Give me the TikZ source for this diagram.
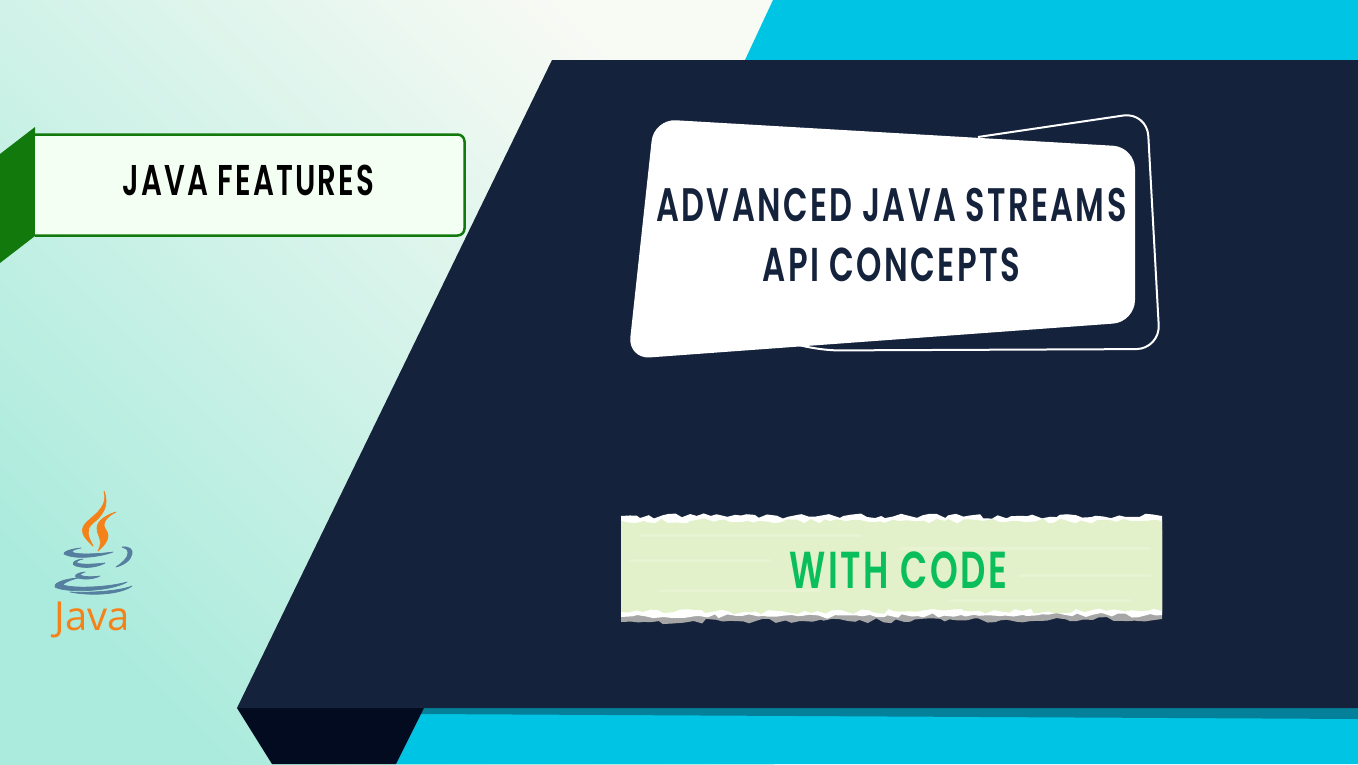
\documentclass[tikz,border=0pt]{standalone}
\usepackage{fontspec}
\setmainfont[FakeStretch=0.68,LetterSpace=5]{Poppins SemiBold}
\newfontfamily\logofont{Open Sans}
\usetikzlibrary{decorations.pathmorphing}
\definecolor{navy}{HTML}{15223B}
\definecolor{navydark}{HTML}{020B1F}
\definecolor{skycyan}{HTML}{00C4E3}
\definecolor{tealband}{HTML}{05809A}
\definecolor{badgegreen}{HTML}{127A0C}
\definecolor{badgefill}{HTML}{F3FFF2}
\definecolor{paper}{HTML}{E3F1CB}
\definecolor{streak}{HTML}{E7F3D2}
\definecolor{codegreen}{HTML}{0ABF5B}
\definecolor{flame}{HTML}{F58219}
\definecolor{cupblue}{HTML}{557E9F}
\definecolor{mintlow}{HTML}{ABEBDD}
\definecolor{minthigh}{HTML}{F8FAF4}
\tikzset{
    heading/.style={inner sep=0pt, font=\fontsize{#1}{#1}\selectfont},
    tornedge/.style={decoration={random steps, segment length=7pt, amplitude=2.6pt}},
    logopart/.style={fill=#1, draw=#1, line width=0.7pt, line join=round},
}
\begin{document}
\begin{tikzpicture}[x=1pt, y=-1pt]
    \useasboundingbox (0, 0) rectangle (1358, 764);
    % background
    \shade[bottom color=mintlow, top color=minthigh, shading angle=-45] (0, -10) rectangle (774, 764);
    % panels
    \fill[skycyan] (773, 0) -- (1358, 0) -- (1358, 60) -- (745, 60) -- cycle;
    \fill[skycyan] (424, 708) -- (1358, 708) -- (1358, 764) -- (396, 764) -- cycle;
    \fill[tealband] (424, 708) -- (1358, 708) -- (1358, 719) -- (421, 714) -- cycle;
    \fill[navydark] (237, 708) -- (424, 708) -- (396, 764) -- (272, 764) -- cycle;
    \fill[navy] (552, 60) -- (1358, 60) -- (1358, 708) -- (237, 708) -- cycle;
    % badge
    \fill[badgegreen] (35, 127) -- (35, 236) -- (0, 263) -- (0, 154) -- cycle;
    \draw[badgegreen, line width=2.5pt, fill=badgefill, rounded corners=7pt] (35, 134.5) -- (464.5, 134.5) -- (464.5, 235.5) -- (35, 235.5);
    \node[heading=43, text=black] (features) at (248.5, 180) {JAVA FEATURES};
    % title card
    \draw[white, line width=2pt, rounded corners=24pt]
        (978, 137) -- (1147, 112) -- (1160, 349) -- (815, 350.5) -- (798, 345);
    \fill[white, rounded corners=22pt] (654, 119) -- (1135, 147) -- (1135, 322) -- (628, 359) -- cycle;
    \node[heading=47, text=navy] (streams) at (891.5, 205) {ADVANCED JAVA STREAMS};
    \node[heading=47.5, text=navy] (concepts) at (891.5, 265) {API CONCEPTS};
    % torn paper
    \pgfmathsetseed{41}
    \fill[black!35, tornedge] (621, 530) -- (1162, 530) -- (1162, 619)
        decorate {-- (621, 622)} -- cycle;
    \fill[white, tornedge] (621, 516) decorate {-- (1162, 516)} -- (1162, 615)
        decorate {-- (621, 617)} -- cycle;
    \fill[paper, tornedge] (621, 521) decorate {-- (1162, 521)} -- (1162, 611)
        decorate {-- (621, 612)} -- cycle;
    \foreach \y/\xa/\xb in {535/640/860, 548/900/1150, 590/660/820, 600/950/1130, 575/1020/1150, 560/630/770}
        \draw[streak, line width=3pt, line cap=round] (\xa, \y) -- (\xb, \y);
    \node[heading=52, text=codegreen] (withcode) at (898.5, 570) {WITH CODE};
    % java logo
    \path[logopart=flame] (104, 491) .. controls (108, 505) and (97, 513) .. (89, 520)
        .. controls (78, 529) and (82, 536) .. (93, 546)
        .. controls (88, 536) and (85, 530) .. (93, 523)
        .. controls (102, 516) and (110, 506) .. (104, 491) -- cycle;
    \path[logopart=flame] (116, 512) .. controls (106, 515) and (97, 521) .. (97, 528)
        .. controls (97, 536) and (104, 540) .. (98, 551)
        .. controls (106, 544) and (111, 537) .. (106, 530)
        .. controls (101, 524) and (106, 517) .. (116, 512) -- cycle;
    \path[logopart=cupblue] (81, 548) .. controls (70, 549) and (63, 552) .. (64, 554)
        .. controls (75, 560) and (100, 557) .. (113, 552)
        .. controls (100, 554) and (75, 555) .. (72, 552)
        .. controls (72, 550) and (76, 549) .. (81, 548) -- cycle;
    \path[logopart=cupblue] (122, 547) .. controls (130, 546) and (133, 550) .. (132, 554)
        .. controls (131, 560) and (124, 565) .. (116, 567)
        .. controls (122, 563) and (128, 558) .. (128, 553)
        .. controls (128, 549) and (125, 548) .. (122, 547) -- cycle;
    \path[logopart=cupblue] (83, 559) .. controls (72, 560) and (71, 565) .. (76, 566)
        .. controls (86, 569) and (98, 567) .. (105, 563)
        .. controls (96, 564) and (82, 565) .. (77, 563)
        .. controls (76, 561) and (79, 560) .. (83, 559) -- cycle;
    \path[logopart=cupblue] (85, 572) .. controls (75, 573) and (73, 577) .. (78, 578)
        .. controls (85, 580) and (94, 579) .. (100, 576)
        .. controls (93, 577) and (83, 577) .. (80, 575)
        .. controls (80, 574) and (82, 573) .. (85, 572) -- cycle;
    \path[logopart=cupblue] (78, 578) .. controls (62, 579) and (53, 584) .. (55, 587)
        .. controls (65, 593) and (110, 592) .. (127, 582)
        .. controls (110, 587) and (75, 589) .. (63, 585)
        .. controls (63, 583) and (70, 580) .. (78, 578) -- cycle;
    \path[logopart=cupblue] (70, 592) .. controls (90, 596) and (120, 595) .. (132, 586)
        .. controls (120, 591) and (90, 593) .. (70, 592) -- cycle;
    \node[inner sep=0pt, font=\logofont\fontsize{40}{40}\selectfont, text=flame] (javalogo) at (92.5, 620) {Java};
\end{tikzpicture}
\end{document}
